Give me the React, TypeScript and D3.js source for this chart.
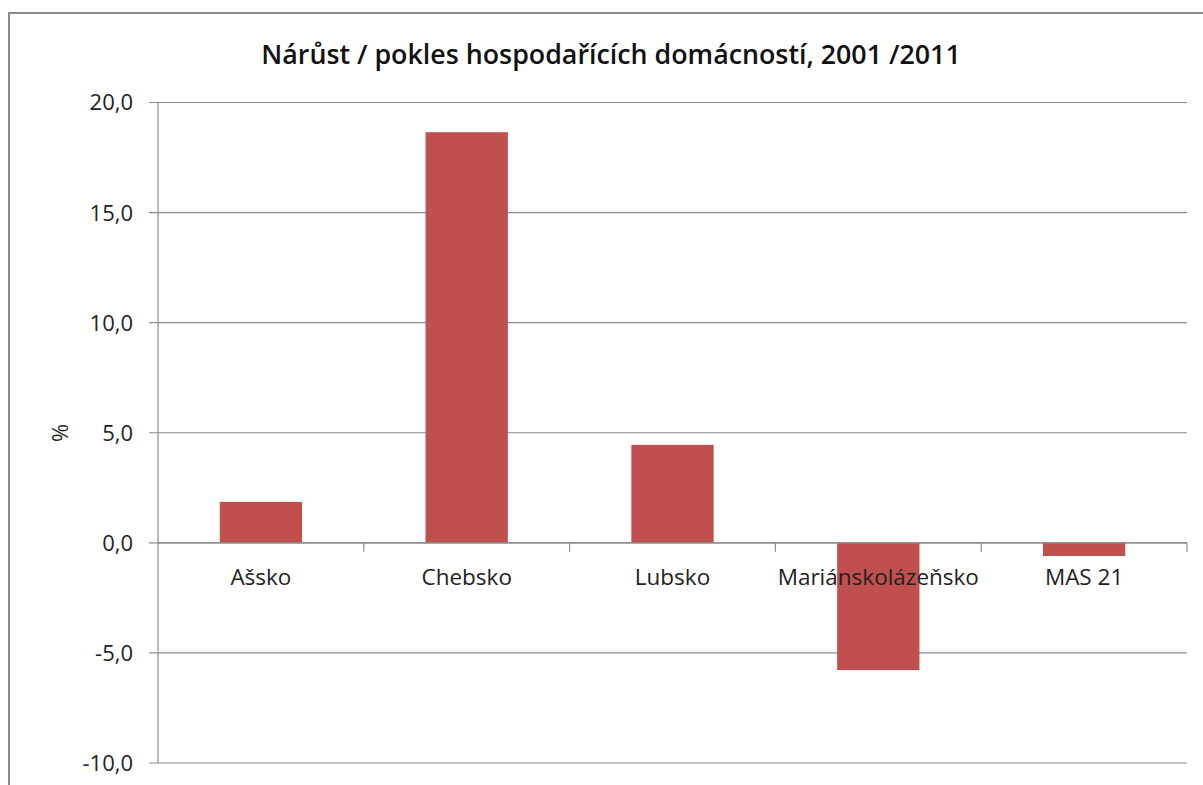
import React, { useEffect, useRef } from 'react';
import * as d3 from 'd3';

const categories = ['Ašsko', 'Chebsko', 'Lubsko', 'Mariánskolázeňsko', 'MAS 21'];
const values = [1.86, 18.65, 4.45, -5.78, -0.6];
const yTicks = [-10, -5, 0, 5, 10, 15, 20];
const title = 'Nárůst / pokles hospodařících domácností, 2001 /2011';

const App = () => {
    const ref = useRef<SVGSVGElement>(null);

    useEffect(() => {
        const svg = d3.select(ref.current);
        svg.selectAll('*').remove();

        const width = 1203;
        const height = 785;
        const margin = { left: 158, right: 16, top: 102.5, bottom: 22 };
        const font = "'Open Sans', 'Noto Sans', sans-serif";

        // rámeček grafu
        svg.append('rect')
            .attr('x', 9).attr('y', 13)
            .attr('width', width + 20).attr('height', height + 20)
            .attr('fill', '#fff')
            .attr('stroke', '#8a8a8a')
            .attr('stroke-width', 2);

        const x = d3.scaleBand()
            .domain(categories)
            .range([margin.left, width - margin.right])
            .paddingInner(0.6)
            .paddingOuter(0.3);

        const band = d3.scaleBand()
            .domain(categories)
            .range([margin.left, width - margin.right]);

        const y = d3.scaleLinear()
            .domain([-10, 20])
            .range([height - margin.bottom, margin.top]);

        // mřížka
        svg.append('g')
            .selectAll('line')
            .data(yTicks)
            .join('line')
            .attr('x1', margin.left - 9)
            .attr('x2', width - margin.right)
            .attr('y1', d => y(d))
            .attr('y2', d => y(d))
            .attr('stroke', '#8c8c8c')
            .attr('stroke-width', 1.2);

        // svislá osa
        svg.append('line')
            .attr('x1', margin.left).attr('x2', margin.left)
            .attr('y1', y(20)).attr('y2', y(-10))
            .attr('stroke', '#8c8c8c')
            .attr('stroke-width', 1.2);

        svg.append('g')
            .selectAll('text')
            .data(yTicks)
            .join('text')
            .attr('x', margin.left - 25)
            .attr('y', d => y(d))
            .attr('dy', '0.36em')
            .attr('text-anchor', 'end')
            .style('font-family', font)
            .style('font-size', '22px')
            .style('fill', '#222')
            .text(d => d3.format('.1f')(d).replace('.', ',').replace('−', '-'));

        // sloupce
        svg.append('g')
            .selectAll('rect')
            .data(values)
            .join('rect')
            .attr('x', (d, i) => x(categories[i]) as number)
            .attr('width', x.bandwidth())
            .attr('y', d => y(Math.max(0, d)))
            .attr('height', d => Math.abs(y(d) - y(0)))
            .attr('fill', '#C0504D');

        // osa x
        svg.append('line')
            .attr('x1', margin.left).attr('x2', width - margin.right)
            .attr('y1', y(0)).attr('y2', y(0))
            .attr('stroke', '#8c8c8c')
            .attr('stroke-width', 1.2);

        svg.append('g')
            .selectAll('line')
            .data(categories.slice(1).concat(['__end']))
            .join('line')
            .attr('x1', (d, i) => margin.left + band.bandwidth() * (i + 1))
            .attr('x2', (d, i) => margin.left + band.bandwidth() * (i + 1))
            .attr('y1', y(0))
            .attr('y2', y(0) + 9)
            .attr('stroke', '#8c8c8c')
            .attr('stroke-width', 1.2);

        svg.append('g')
            .selectAll('text')
            .data(categories)
            .join('text')
            .attr('x', d => (band(d) as number) + band.bandwidth() / 2)
            .attr('y', y(0) + 42)
            .attr('text-anchor', 'middle')
            .style('font-family', font)
            .style('font-size', '22.5px')
            .style('fill', '#222')
            .text(d => d);

        // popisek osy
        svg.append('text')
            .attr('transform', `translate(68, 433) rotate(-90)`)
            .attr('text-anchor', 'middle')
            .style('font-family', font)
            .style('font-size', '22px')
            .style('fill', '#222')
            .text('%');

        // nadpis
        svg.append('text')
            .attr('x', 611)
            .attr('y', 64)
            .attr('text-anchor', 'middle')
            .style('font-family', font)
            .style('font-size', '26.8px')
            .style('font-weight', 600)
            .style('fill', '#111')
            .text(title);
    }, []);

    return (
        <svg ref={ref} width={1203} height={785}
            style={{ position: 'absolute', left: 0, top: 0, display: 'block' }} />
    );
};

export default App;
